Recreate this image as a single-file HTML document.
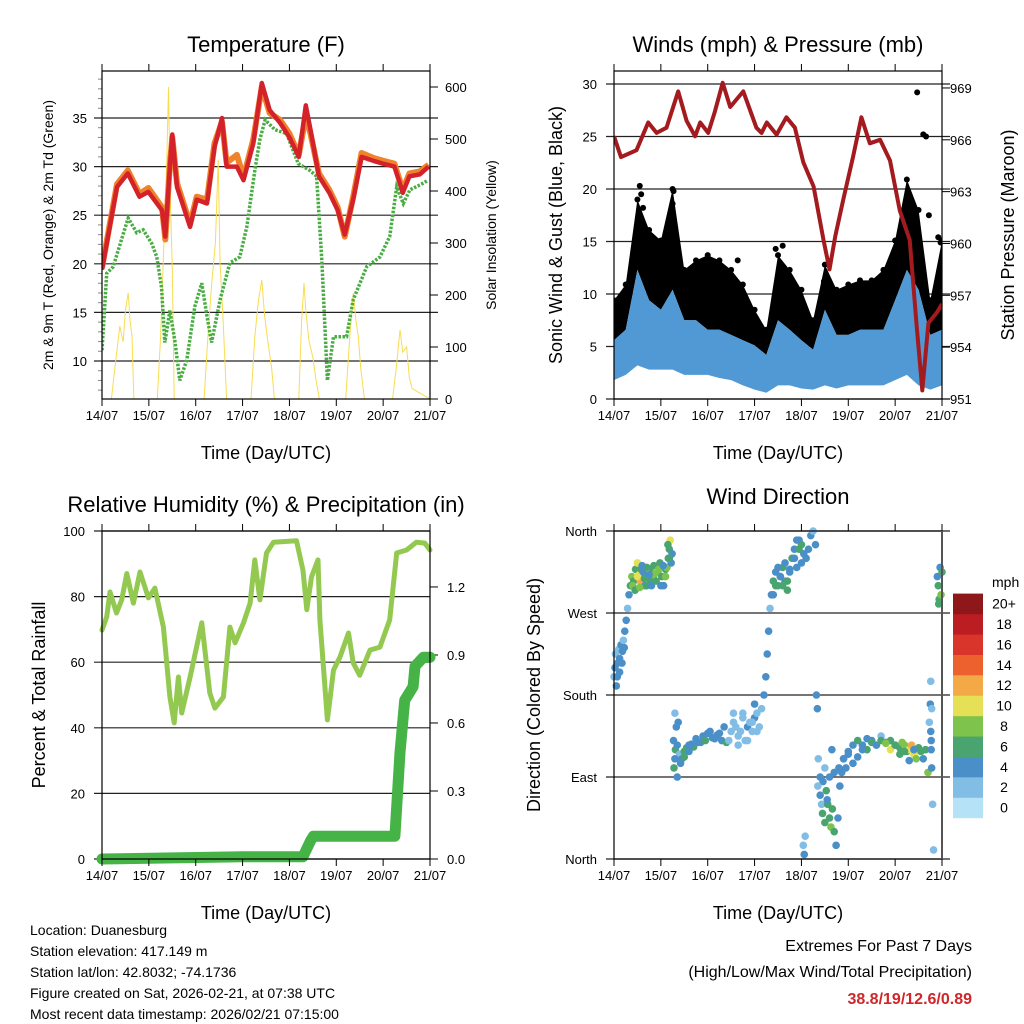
<!DOCTYPE html>
<html><head><meta charset="utf-8"><style>
html,body{margin:0;padding:0;background:#fff;}
svg{display:block;font-family:"Liberation Sans",sans-serif;}
</style></head><body>
<svg id="c" width="1024" height="1024" viewBox="0 0 1024 1024" xmlns="http://www.w3.org/2000/svg"></svg>
<script>
// ---------- Temperature panel data ----------
const tempTimes = [0,0.32,0.55,0.8,0.99,1.28,1.35,1.45,1.5,1.6,1.88,2.02,2.24,2.4,2.56,2.66,2.88,3.02,3.23,3.41,3.58,3.8,4.0,4.2,4.35,4.45,4.63,4.85,5.03,5.18,5.36,5.54,5.79,6.0,6.24,6.42,6.56,6.78,6.97];
const tempRed = [19.4,27.9,29.3,26.9,27.4,25.5,22.8,30,33.3,27.9,23.8,26.6,26.2,32,35,30,30,28.6,32.4,38.6,35.8,34.5,33,31,36.3,33.8,29,27.3,25.5,23,26.6,31,30.6,30.3,30,27.3,29,29.2,30];
const tempOrange = [19.6,28.2,29.6,27.2,27.8,25.8,22.5,30.3,33,28.3,24.1,26.9,26.6,32.4,34.6,30.4,31.2,28.9,32.8,38.2,35.5,34.8,33.4,31.2,35.2,33.4,29.3,27.6,25.8,22.8,26.9,31.4,30.9,30.6,30.3,27.6,29.3,29.5,30.2];
const tdTimes = [0,0.1,0.24,0.46,0.56,0.74,0.88,1.06,1.17,1.27,1.34,1.45,1.56,1.66,1.81,1.98,2.13,2.23,2.34,2.52,2.73,2.94,3.09,3.26,3.37,3.48,3.69,3.94,4.19,4.44,4.58,4.69,4.81,4.94,5.22,5.36,5.65,5.93,6.14,6.29,6.43,6.57,6.86,6.96];
const tdVals = [11.1,19,19.7,23.2,24.7,23.2,23.5,22.1,20.7,17.6,11.9,15.2,11.9,8,10.1,15.6,18,14.9,11.9,16.3,20.1,20.7,23.8,29.6,32.8,34.8,33.8,33.4,30.3,29.6,29,20.4,8,12.5,12.5,16.3,19.7,20.7,22.8,27.9,26.2,27.6,28.3,28.6];
const solarTimes = [0,0.2,0.3,0.38,0.45,0.5,0.56,0.6,0.64,0.68,1.18,1.25,1.32,1.38,1.42,1.46,1.5,1.54,2.18,2.26,2.34,2.42,2.48,2.52,2.58,2.66,3.18,3.26,3.34,3.41,3.47,3.54,3.62,3.68,4.2,4.26,4.31,4.35,4.42,4.5,4.56,4.64,5.2,5.28,5.36,5.42,5.47,5.52,5.6,6.2,6.28,6.36,6.42,6.5,6.56,6.62,7];
const solarVals = [0,0,80,140,110,170,204,150,120,0,0,120,300,450,600,380,250,0,0,120,220,300,460,260,160,0,0,120,190,229,160,110,60,0,0,150,223,170,110,80,40,0,0,110,204,150,120,60,0,0,60,133,90,100,40,20,0];
// ---------- Wind panel data ----------
const windTimes = [0,0.25,0.5,0.75,1,1.25,1.5,1.75,2,2.25,2.5,2.75,3,3.25,3.5,3.75,4,4.25,4.5,4.75,5,5.25,5.5,5.75,6,6.25,6.5,6.75,7];
const gustHi = [9.4,10.9,19,16.1,15.1,20,12.3,13.2,13.7,13.2,12.3,10.9,8.5,6.6,13.7,12.3,10.4,7.5,12.8,10.4,10.9,11.3,11.3,12.3,15.1,20.9,18,9.4,15.1];
const windHi = [5.6,6.6,12.3,9.4,8.5,10.4,7.5,7.5,6.6,6.6,6.1,5.6,5.1,4.2,7.5,6.6,5.6,4.7,8.5,6.1,6.1,6.6,6.6,6.6,9.4,12.3,10.4,6.1,6.6];
const windLo = [1.8,2.3,3.2,2.8,2.8,2.8,2.3,2.3,2.3,2.0,1.8,1.3,0.9,0.6,1.3,1.3,1.0,0.9,1.3,1.0,1.3,1.3,1.3,1.3,1.8,2.3,1.3,0.9,1.3];
const gustOutTimes = [0.55,0.58,0.62,1.27,1.25,2.64,3.45,3.6,4.48,6.47,6.6,6.66,6.72,6.92,6.97];
const gustOutVals = [20.3,19.5,18.2,19.8,18.6,13.2,14.3,14.6,11.2,29.2,25.2,25,17.5,15.4,14.9];
const presTimes = [0,0.15,0.48,0.73,0.91,1.12,1.37,1.55,1.73,1.84,2.01,2.15,2.32,2.48,2.76,3.04,3.15,3.26,3.47,3.68,3.86,4.04,4.26,4.47,4.6,4.72,4.89,5.1,5.28,5.46,5.68,5.89,6.1,6.31,6.46,6.58,6.71,6.89,7];
const presVals = [966.2,965,965.4,967,966.4,966.7,968.8,967.1,966.2,967,966.4,967.6,969.3,967.9,968.8,966.7,966.4,967,966.3,967.3,966.7,964.7,963.3,960.2,958.5,960.4,962.5,965,967.3,965.8,966,964.8,961.9,960.2,955.2,951.5,955.4,956,956.5];
// ---------- RH / precip data ----------
const rhTimes = [0,0.1,0.17,0.31,0.42,0.53,0.67,0.81,0.99,1.13,1.31,1.45,1.54,1.63,1.7,1.88,2.13,2.3,2.41,2.59,2.73,2.84,3.02,3.16,3.26,3.37,3.51,3.66,4.15,4.29,4.37,4.47,4.61,4.65,4.81,4.94,5.08,5.26,5.36,5.5,5.72,5.93,6.14,6.29,6.5,6.71,6.89,7];
const rhVals = [69.8,73.8,81.4,75,79,87,78,87.5,79.6,82.6,70.7,49.4,41.5,55.5,44.5,55.5,72,50.6,46,49.4,70.7,65.9,72,78,91.2,79,93.3,96.6,97,88,76,86,91.2,72.9,42.4,57.6,61.6,68.9,59.8,56,63.7,64.6,72.9,93.3,94.2,96.6,96.3,94.2];
const prTimes = [0,3.0,4.29,4.45,4.51,6.25,6.36,6.46,6.64,6.68,6.86,7];
const prVals = [0,0.01,0.01,0.08,0.1,0.1,0.47,0.7,0.76,0.85,0.89,0.89];
// ---------- Wind direction data ----------
const dirTimes = [0,0.03,0.05,0.08,0.1,0.12,0.15,0.18,0.2,0.23,0.26,0.29,0.32,0.35,0.38,0.42,0.46,0.5,0.54,0.56,0.58,0.62,0.66,0.7,0.74,0.78,0.82,0.86,0.9,0.94,0.98,1.02,1.06,1.1,1.13,1.16,1.18,1.2,1.22,1.24,
1.27,1.28,1.3,1.31,1.33,1.35,1.37,1.4,1.45,1.5,1.55,1.6,1.7,1.8,1.9,2.0,2.1,2.2,2.3,2.4,2.5,2.55,2.6,2.65,2.7,2.75,2.8,2.85,2.9,2.95,3.0,3.05,3.1,3.15,3.2,3.24,3.27,3.3,3.33,3.36,3.4,3.45,3.5,3.55,3.6,3.65,3.7,3.75,3.8,3.85,3.9,3.95,4.0,4.05,4.1,4.15,4.2,4.25,4.3,
4.04,4.06,4.08,4.32,4.34,4.36,4.4,4.43,4.46,4.5,4.53,4.56,4.6,4.63,4.66,4.7,4.74,4.78,4.82,4.86,4.9,4.95,5.0,5.1,5.2,5.3,5.4,5.5,5.6,5.7,5.8,5.9,6.0,6.1,6.15,6.2,6.25,6.3,6.35,6.4,6.45,6.5,6.55,6.6,6.65,6.7,6.73,6.75,6.77,6.78,6.8,6.82,6.9,6.92,6.94,6.96,6.98,7.0,6.93,
0.4,0.45,0.5,0.55,0.6,0.65,0.7,0.75,0.8,0.85,0.9,0.95,1.0,1.05,1.1,1.15,1.18,0.02,0.07,0.12,0.17,0.22,
1.3,1.35,1.42,1.5,1.6,1.65,1.75,1.85,1.95,2.05,2.15,2.25,2.35,2.45,2.55,2.65,2.75,2.85,2.95,3.05,3.0,
3.4,3.45,3.5,3.55,3.6,3.65,3.7,3.75,3.85,3.9,3.95,4.0,
4.35,4.4,4.45,4.5,4.55,4.6,4.65,4.7,4.8,4.9,5.0,5.1,5.2,5.3,5.4,5.5,5.6,5.7,5.8,5.9,6.0,6.1,6.2,6.3,6.4,6.76,6.76,6.77,6.78];
const dirDegs = [200,225,190,215,230,220,235,228,240,250,262,275,290,300,310,305,318,325,312,305,318,315,300,320,310,305,318,312,320,315,325,310,300,318,320,330,340,350,325,335,
130,100,160,120,145,90,150,115,110,118,122,125,123,128,135,138,133,136,130,128,140,150,145,135,140,155,130,145,150,140,155,160,145,165,180,200,225,250,275,290,305,315,300,310,320,305,295,315,330,340,320,350,345,335,330,340,355,360,345,
15,5,25,180,165,110,90,60,85,100,75,60,45,35,55,30,15,45,80,95,110,100,115,105,112,125,120,130,125,135,128,130,125,122,128,125,118,120,125,115,110,122,118,110,120,95,150,170,120,165,60,10,310,300,285,320,290,315,280,
300,295,310,298,322,308,300,312,300,322,305,318,300,322,310,345,330,210,200,205,215,232,
110,125,105,112,118,126,132,128,130,140,132,138,145,130,160,125,160,130,150,140,170,
290,300,320,310,300,325,305,318,330,350,340,325,
80,70,50,40,65,90,120,95,100,110,118,125,130,120,132,128,125,130,127,120,125,115,118,108,120,195,140,130,100];
const dirSpeeds = [3,3,4,4,3,5,4,4,3,4,4,3,5,6,8,7,6,10,10,12,6,4,4,6,4,6,7,8,10,8,6,6,4,6,8,6,6,10,4,4,
4,6,3,6,4,4,4,3,5,6,6,4,6,4,4,4,4,4,4,6,2,2,2,2,2,2,2,4,2,2,4,2,2,2,4,4,4,4,2,4,6,4,6,4,6,4,6,4,6,4,4,4,6,4,4,4,4,2,4,
2,4,2,4,4,2,4,2,4,2,6,6,6,8,6,6,4,4,4,4,4,4,4,4,4,4,6,4,4,2,4,6,4,6,8,8,6,10,12,10,8,6,6,4,6,8,2,4,4,2,2,2,4,6,6,4,8,6,6,
8,6,10,8,4,6,6,4,4,6,6,8,4,4,8,6,6,4,4,4,4,4,
4,4,4,6,4,4,4,4,6,4,4,4,4,2,2,2,2,2,2,2,4,
4,6,4,4,6,4,6,4,4,4,6,4,
2,4,6,6,4,4,4,4,4,4,4,4,6,4,4,6,4,6,8,10,6,6,6,4,4,2,4,4,4];
const spdLabels = ["0","2","4","6","8","10","12","14","16","18","20+"];
const spdColors = ["#b5e2f6","#82bde6","#4b8fc9","#4aa46f","#7ec34b","#e5e055","#f4a947","#ec612d","#d9352b","#bb1d23","#8e1719"];
const dayLabels = ["14/07","15/07","16/07","17/07","18/07","19/07","20/07","21/07"];

const svg = document.getElementById('c');
const NS = "http://www.w3.org/2000/svg";
function mk(tag, attrs, parent){ const e=document.createElementNS(NS,tag); for(const k in attrs) e.setAttribute(k,attrs[k]); (parent||svg).appendChild(e); return e; }
function txt(x,y,s,size,anchor,parent,extra){ const e=mk('text',Object.assign({x:x,y:y,'font-size':size,'text-anchor':anchor||'middle',fill:'#000'},extra||{}),parent); e.textContent=s; return e; }

function panel(name){
  const g=mk('g',{});
  
  
  return g;
}
function xAxis(g,x0,x1,yTop,yBot){
  const ax=(t)=>x0+t*(x1-x0)/7;
  for(let i=0;i<8;i++){
    const x=ax(i);
    mk('line',{x1:x,y1:yBot,x2:x,y2:yBot+7,stroke:'#000','stroke-width':1},g);
    mk('line',{x1:x,y1:yTop,x2:x,y2:yTop-7,stroke:'#000','stroke-width':1},g);
    const l=txt(x,yBot+21,dayLabels[i],13,'middle',g);
    
    
  }
}
function poly(pts){ return pts.map(p=>p[0].toFixed(1)+','+p[1].toFixed(1)).join(' '); }

// ============ Panel 1: Temperature ============
(function(){
  const X0=102,X1=430,Y0=71,Y1=399;
  const g=panel('temperature-panel');
  const xs=t=>X0+t*(X1-X0)/7;
  const yT=v=>118+(35-v)*9.72;
  const yS=w=>399-w*0.52;
  const clip=mk('clipPath',{id:'cp1'},g); mk('rect',{x:X0,y:Y0,width:X1-X0,height:Y1-Y0},clip);
  [10,15,20,25,30,35].forEach(v=>{ mk('line',{x1:X0-8,y1:yT(v),x2:X1+8,y2:yT(v),stroke:'#222','stroke-width':1.2},g); txt(X0-15,yT(v)+5,String(v),13,'end',g); });
  for(let v=7;v<=39;v++){ if(v%5) mk('line',{x1:X0-4,y1:yT(v),x2:X0,y2:yT(v),stroke:'#888','stroke-width':1},g); }
  [0,100,200,300,400,500,600].forEach(w=>{ mk('line',{x1:X1,y1:yS(w),x2:X1+8,y2:yS(w),stroke:'#000','stroke-width':1},g); txt(X1+15,yS(w)+5,String(w),13,'start',g); });
  const pg=mk('g',{'clip-path':'url(#cp1)'},g);
  const sol=mk('polyline',{points:poly(solarTimes.map((t,i)=>[xs(t),yS(solarVals[i])])),fill:'none',stroke:'#f8dc50','stroke-width':1},pg);
  
  
  const td=mk('polyline',{points:poly(tdTimes.map((t,i)=>[xs(t),yT(tdVals[i])])),fill:'none',stroke:'#49ad44','stroke-width':3.5,'stroke-dasharray':'2.5 1.5'},pg);
  
  
  const or=mk('polyline',{points:poly(tempTimes.map((t,i)=>[xs(t),yT(tempOrange[i])])),fill:'none',stroke:'#f0822c','stroke-width':6,'stroke-linejoin':'round'},pg);
  
  
  const rd=mk('polyline',{points:poly(tempTimes.map((t,i)=>[xs(t),yT(tempRed[i])])),fill:'none',stroke:'#d3222a','stroke-width':4.5,'stroke-linejoin':'round'},pg);
  
  
  mk('rect',{x:X0,y:Y0,width:X1-X0,height:Y1-Y0,fill:'none',stroke:'#000','stroke-width':1.2},g);
  xAxis(g,X0,X1,Y0,Y1);
  txt(266,52,'Temperature (F)',22,'middle',g);
  txt(266,459,'Time (Day/UTC)',18,'middle',g);
  txt(0,0,'2m & 9m T (Red, Orange) & 2m Td (Green)',14,'middle',g,{transform:'translate(53,235) rotate(-90)'});
  txt(0,0,'Solar Insolation (Yellow)',14,'middle',g,{transform:'translate(496,235) rotate(-90)'});
})();

// ============ Panel 2: Winds & Pressure ============
(function(){
  const X0=614,X1=942,Y0=71,Y1=399;
  const g=panel('winds-pressure-panel');
  const xs=t=>X0+t*(X1-X0)/7;
  const yW=v=>399-v*10.5;
  const yP=m=>399-(m-951)*17.28;
  const clip=mk('clipPath',{id:'cp2'},g); mk('rect',{x:X0,y:Y0,width:X1-X0,height:Y1-Y0},clip);
  [0,5,10,15,20,25,30].forEach(v=>{ mk('line',{x1:X0-8,y1:yW(v),x2:X1+8,y2:yW(v),stroke:'#222','stroke-width':1.2},g); txt(X0-17,yW(v)+5,String(v),13,'end',g); });
  [951,954,957,960,963,966,969].forEach(m=>{ mk('line',{x1:X1,y1:yP(m),x2:X1+8,y2:yP(m),stroke:'#000','stroke-width':1},g); txt(X1+8,yP(m)+5,String(m),13,'start',g); });
  const pg=mk('g',{'clip-path':'url(#cp2)'},g);
  const top=windTimes.map((t,i)=>[xs(t),yW(gustHi[i])]);
  const mid=windTimes.map((t,i)=>[xs(t),yW(windHi[i])]);
  const low=windTimes.map((t,i)=>[xs(t),yW(windLo[i])]);
  const gb=mk('polygon',{points:poly(top.concat(mid.slice().reverse())),fill:'#000'},pg);
  
  
  top.forEach(p=>mk('circle',{cx:p[0],cy:p[1],r:3,fill:'#000'},pg));
  gustOutTimes.forEach((t,i)=>{ const c=mk('circle',{cx:xs(t),cy:yW(gustOutVals[i]),r:3,fill:'#000'},pg);
    
     });
  const wb=mk('polygon',{points:poly(mid.concat(low.slice().reverse())),fill:'#5199d4'},pg);
  
  
  const pl=mk('polyline',{points:poly(presTimes.map((t,i)=>[xs(t),yP(presVals[i])])),fill:'none',stroke:'#a41b1f','stroke-width':4,'stroke-linejoin':'round'},pg);
  
  
  mk('rect',{x:X0,y:Y0,width:X1-X0,height:Y1-Y0,fill:'none',stroke:'#000','stroke-width':1.2},g);
  xAxis(g,X0,X1,Y0,Y1);
  txt(778,52,'Winds (mph) & Pressure (mb)',22,'middle',g);
  txt(778,459,'Time (Day/UTC)',18,'middle',g);
  txt(0,0,'Sonic Wind & Gust (Blue, Black)',18,'middle',g,{transform:'translate(562,235) rotate(-90)'});
  txt(0,0,'Station Pressure (Maroon)',18,'middle',g,{transform:'translate(1014,235) rotate(-90)'});
})();

// ============ Panel 3: RH & Precip ============
(function(){
  const X0=102,X1=430,Y0=531,Y1=859;
  const g=panel('humidity-precip-panel');
  const xs=t=>X0+t*(X1-X0)/7;
  const yR=v=>859-v*3.28;
  const yPr=v=>859-v*226.7;
  const clip=mk('clipPath',{id:'cp3'},g); mk('rect',{x:X0-8,y:Y0,width:X1-X0+16,height:Y1-Y0+8},clip);
  [0,20,40,60,80,100].forEach(v=>{ mk('line',{x1:X0-8,y1:yR(v),x2:X1,y2:yR(v),stroke:'#222','stroke-width':1.2},g); txt(X0-17,yR(v)+5,String(v),13,'end',g); });
  ['0.0','0.3','0.6','0.9','1.2'].forEach(s=>{ const v=parseFloat(s); mk('line',{x1:X1,y1:yPr(v),x2:X1+8,y2:yPr(v),stroke:'#000','stroke-width':1},g); txt(X1+17,yPr(v)+5,s,13,'start',g); });
  const pg=mk('g',{'clip-path':'url(#cp3)'},g);
  const rh=mk('polyline',{points:poly(rhTimes.map((t,i)=>[xs(t),yR(rhVals[i])])),fill:'none',stroke:'#93c950','stroke-width':5,'stroke-linejoin':'round','stroke-linecap':'round'},pg);
  
  
  const pr=mk('polyline',{points:poly(prTimes.map((t,i)=>[xs(t),yPr(prVals[i])])),fill:'none',stroke:'#46b347','stroke-width':11,'stroke-linejoin':'round','stroke-linecap':'round'},pg);
  
  
  mk('rect',{x:X0,y:Y0,width:X1-X0,height:Y1-Y0,fill:'none',stroke:'#000','stroke-width':1.2},g);
  xAxis(g,X0,X1,Y0,Y1);
  txt(266,512,'Relative Humidity (%) & Precipitation (in)',22,'middle',g);
  txt(266,919,'Time (Day/UTC)',18,'middle',g);
  txt(0,0,'Percent & Total Rainfall',18,'middle',g,{transform:'translate(45,695) rotate(-90)'});
})();

// ============ Panel 4: Wind direction ============
(function(){
  const X0=614,X1=942,Y0=531,Y1=859;
  const g=panel('wind-direction-panel');
  const xs=t=>X0+t*(X1-X0)/7;
  const yD=d=>859-d*0.9111;
  const names=['North','East','South','West','North'];
  [0,90,180,270,360].forEach((d,i)=>{ mk('line',{x1:X0-8,y1:yD(d),x2:X1+8,y2:yD(d),stroke:'#222','stroke-width':1.2},g); txt(X0-17,yD(d)+5,names[i],13,'end',g); });
  const pg=mk('g',{},g);
  dirTimes.forEach((t,i)=>{
    const idx=Math.min(10,Math.floor(dirSpeeds[i]/2));
    const c=mk('circle',{cx:xs(t),cy:yD(dirDegs[i]),r:3.8,fill:spdColors[idx]},pg);
    
    
  });
  mk('rect',{x:X0,y:Y0,width:X1-X0,height:Y1-Y0,fill:'none',stroke:'#000','stroke-width':1.2},g);
  mk('line',{x1:X1,y1:Y0,x2:X1,y2:Y1,stroke:'#555','stroke-width':2},g);
  xAxis(g,X0,X1,Y0,Y1);
  txt(778,504,'Wind Direction',22,'middle',g);
  txt(778,919,'Time (Day/UTC)',18,'middle',g);
  txt(0,0,'Direction (Colored By Speed)',18,'middle',g,{transform:'translate(540,695) rotate(-90)'});
  const lg=mk('g',{},g);
  
  
  txt(992,587,'mph',14,'start',lg);
  for(let i=0;i<11;i++){
    const y=818-(i+1)*20.4;
    mk('rect',{x:953,y:y,width:30,height:20.6,fill:spdColors[i]},lg);
    txt(1004,y+15,spdLabels[i],14,'middle',lg);
  }
})();

// ============ Footer ============
(function(){
  const g=mk('g',{});
  
  
  ['Location: Duanesburg','Station elevation: 417.149 m','Station lat/lon: 42.8032; -74.1736','Figure created on Sat, 2026-02-21, at 07:38 UTC','Most recent data timestamp: 2026/02/21 07:15:00'].forEach((s,i)=>txt(30,935+i*21,s,14,'start',g));
  const e=mk('g',{});
  
  
  txt(972,951,'Extremes For Past 7 Days',16,'end',e);
  txt(972,977,'(High/Low/Max Wind/Total Precipitation)',16,'end',e);
  txt(972,1004,'38.8/19/12.6/0.89',16,'end',e,{fill:'#d0262a','font-weight':'bold'});
})();
</script>
</body></html>
